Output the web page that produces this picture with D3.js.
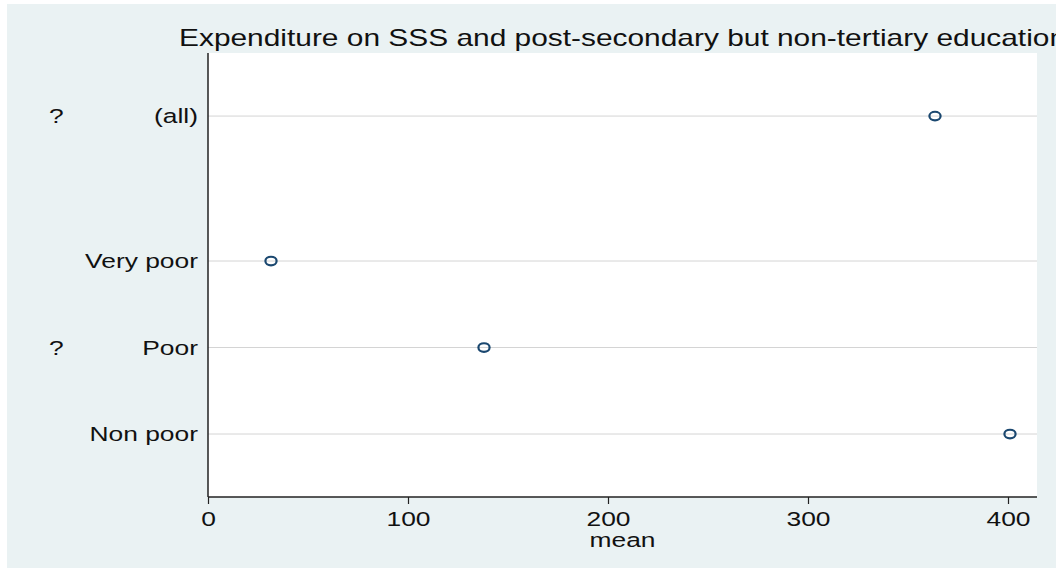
<!DOCTYPE html>
<html>
<head>
<meta charset="utf-8">
<script src="https://cdn.jsdelivr.net/npm/d3@7"></script>
<style>
  body { margin: 0; background: #fff; }
  svg { display: block; font-family: "Liberation Sans", Arial, sans-serif; }
</style>
</head>
<body>
<div id="chart"></div>
<script>
// data
const categories = ["(all)", "Very poor", "Poor", "Non poor"];
const means = [363.5, 31.5, 138, 401];
const sideMarks = ["?", "", "?", ""];
const xTicks = [0, 100, 200, 300, 400];
const title = "Expenditure on SSS and post-secondary but non-tertiary education";
const xTitle = "mean";

const W = 1056, H = 570;
const plot = { left: 208, right: 1037, top: 53, bottom: 497 };
const sx = 1.3; // horizontal stretch of the text in the reference

// slot for each row; (all) sits apart from the groups
const slot = (d, i) => (i === 0 ? -1.676 : i - 1);

const svg = d3.select("#chart").append("svg")
  .attr("width", W).attr("height", H);

// outer area
svg.append("rect").attr("x", 7).attr("y", 4)
  .attr("width", W - 7).attr("height", 564).attr("fill", "#eaf2f3");

svg.append("rect")
  .attr("x", plot.left).attr("y", plot.top)
  .attr("width", plot.right - plot.left).attr("height", plot.bottom - plot.top)
  .attr("fill", "#fff");

const x = d3.scaleLinear().domain([0, 400]).range([208, 1008]);
const y = d3.scaleLinear().domain([-2.405, 2.728]).range([plot.top, plot.bottom]);

// gridlines
svg.append("g").selectAll("line")
  .data(categories)
  .enter().append("line")
  .attr("x1", plot.left).attr("x2", plot.right)
  .attr("y1", (d, i) => y(slot(d, i))).attr("y2", (d, i) => y(slot(d, i)))
  .attr("stroke", "#d4d4d4").attr("stroke-width", 1);

// y axis line
svg.append("line")
  .attr("x1", plot.left).attr("x2", plot.left)
  .attr("y1", plot.top).attr("y2", plot.bottom)
  .attr("stroke", "#222").attr("stroke-width", 1.5);

// x axis
const xAxis = svg.append("g")
  .attr("transform", `translate(0,${plot.bottom})`)
  .call(d3.axisBottom(x).tickValues(xTicks).tickSize(7).tickPadding(8).tickSizeOuter(0));
xAxis.select(".domain").attr("d", `M${plot.left},0H${plot.right}`)
  .attr("stroke", "#222").attr("stroke-width", 1.5);
xAxis.selectAll(".tick line").attr("stroke", "#222").attr("stroke-width", 1.2);
xAxis.selectAll(".tick text")
  .attr("font-size", "20.3px").attr("fill", "#111")
  .attr("font-family", "Liberation Sans, Arial, sans-serif")
  .attr("transform", `scale(${sx},1)`);

// helper for stretched text
function label(txt, px, py, anchor, size) {
  svg.append("text")
    .attr("transform", `translate(${px},${py}) scale(${sx},1)`)
    .attr("text-anchor", anchor)
    .attr("font-size", size + "px")
    .attr("fill", "#111")
    .text(txt);
}

// category labels
categories.forEach((c, i) => {
  const yy = y(slot(c, i)) + 7;
  label(c, 198, yy, "end", 20.3);
  if (sideMarks[i]) label(sideMarks[i], 49, yy, "start", 20.3);
});

// markers
svg.append("g").selectAll("ellipse")
  .data(means)
  .enter().append("ellipse")
  .attr("cx", (d) => x(d))
  .attr("cy", (d, i) => y(slot(d, i)))
  .attr("rx", 5.6).attr("ry", 4.3)
  .attr("fill", "none")
  .attr("stroke", "#1a476f").attr("stroke-width", 2.2);

// titles
label(xTitle, (plot.left + plot.right) / 2, 547, "middle", 20.3);
label(title, (plot.left + plot.right) / 2, 46, "middle", 23);
</script>
</body>
</html>
